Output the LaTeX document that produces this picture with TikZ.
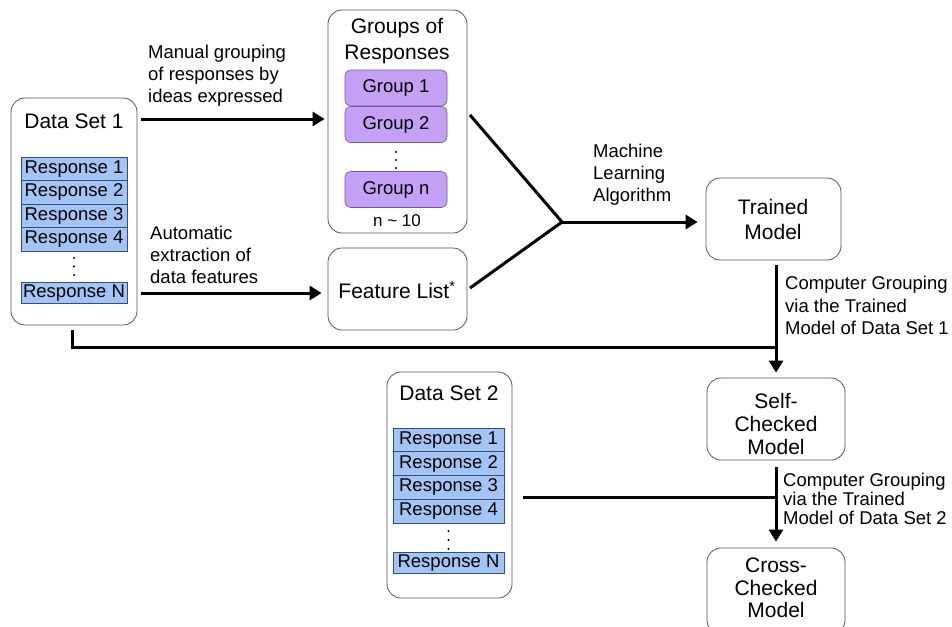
\documentclass[tikz,border=0pt]{standalone}
\usepackage{fontspec}
\setmainfont{Liberation Sans}
\usetikzlibrary{arrows.meta,calc}
\definecolor{respblue}{HTML}{A4C4F6}
\definecolor{respborder}{HTML}{34507A}
\definecolor{grppurple}{HTML}{C4A0F6}
\definecolor{grpborder}{HTML}{6E5A96}
\definecolor{boxborder}{HTML}{555555}
\begin{document}
\begin{tikzpicture}[x=1pt,y=-1pt,
  box/.style={draw=boxborder, line width=0.8pt, rounded corners=14pt, fill=white, inner sep=0pt},
  resp/.style={draw=respborder, line width=0.7pt, fill=respblue, minimum width=106pt, minimum height=23.5pt, inner sep=0pt, font=\fontsize{18.5}{20}\selectfont},
  grp/.style={draw=grpborder, line width=0.6pt, fill=grppurple, rounded corners=6pt, minimum width=102pt, minimum height=36pt, inner sep=0pt, font=\fontsize{18.5}{20}\selectfont},
  ttl/.style={font=\fontsize{21}{25}\selectfont, align=center, inner sep=0pt},
  lbl/.style={font=\fontsize{18.5}{22}\selectfont, align=left, anchor=west, inner sep=0pt},
  dotsym/.style={circle, fill=black, inner sep=0pt, minimum size=2.4pt},
  flow/.style={line width=3pt, -{Triangle[length=12pt,width=14pt]}},
  plain/.style={line width=3pt},
]
\useasboundingbox (0,0) rectangle (952,626);
\clip (0,0) rectangle (952,626);

% ---------- Data Set 1 ----------
\node[box, minimum width=126pt, minimum height=227pt] (ds1) at (74,211.5) {};
\node[ttl] (ds1t) at (74,121) {Data Set 1};
\node[resp] (r11) at (74,168.75) {Response 1};
\node[resp] (r12) at (74,192.25) {Response 2};
\node[resp] (r13) at (74,215.75) {Response 3};
\node[resp] (r14) at (74,239.25) {Response 4};
\node[dotsym] (d11) at (74,258) {};
\node[dotsym] (d12) at (74,266.5) {};
\node[dotsym] (d13) at (74,275) {};
\node[resp, minimum height=21pt] (r1n) at (74,293) {Response N};

% ---------- Groups of Responses ----------
\node[box, minimum width=139pt, minimum height=223pt] (grps) at (397.5,121.5) {};
\node[ttl, font=\fontsize{21}{26}\selectfont] (grpst) at (397,41.5) {Groups of\\Responses};
\node[grp] (g1) at (396,88) {Group 1};
\node[grp] (g2) at (396,124.5) {Group 2};
\node[dotsym] (gd1) at (396,152) {};
\node[dotsym] (gd2) at (396,160) {};
\node[dotsym] (gd3) at (396,168) {};
\node[grp] (gn) at (396,189.5) {Group n};
\node[font=\fontsize{17}{20}\selectfont, inner sep=0pt] (n10) at (397,221) {n \char`~{} 10};

% ---------- Feature List ----------
\node[box, minimum width=139pt, minimum height=82pt] (feat) at (397.5,289) {};
\node[ttl] (featt) at (397,290) {Feature List\textsuperscript{*}};

% ---------- Trained Model ----------
\node[box, minimum width=135pt, minimum height=82pt] (trained) at (773.5,219) {};
\node[ttl] (trainedt) at (773,219.5) {Trained\\Model};

% ---------- Self-Checked Model ----------
\node[box, minimum width=138pt, minimum height=82pt] (self) at (776,419) {};
\node[ttl, font=\fontsize{21}{23}\selectfont] (selft) at (776,424) {Self-\\Checked\\Model};

% ---------- Cross-Checked Model ----------
\node[box, minimum width=138pt, minimum height=86pt] (cross) at (776,591) {};
\node[ttl, font=\fontsize{21}{22.5}\selectfont] (crosst) at (776,588) {Cross-\\Checked\\Model};

% ---------- Data Set 2 ----------
\node[box, minimum width=125pt, minimum height=226pt] (ds2) at (449.5,485) {};
\node[ttl] (ds2t) at (449,393) {Data Set 2};
\node[resp, minimum width=111pt, minimum height=23.75pt] (r21) at (448.5,439.9) {Response 1};
\node[resp, minimum width=111pt, minimum height=23.75pt] (r22) at (448.5,463.6) {Response 2};
\node[resp, minimum width=111pt, minimum height=23.75pt] (r23) at (448.5,487.4) {Response 3};
\node[resp, minimum width=111pt, minimum height=23.75pt] (r24) at (448.5,511.1) {Response 4};
\node[dotsym] (d21) at (448.5,531) {};
\node[dotsym] (d22) at (448.5,540) {};
\node[dotsym] (d23) at (448.5,549) {};
\node[resp, minimum width=111pt, minimum height=21pt] (r2n) at (448.5,563) {Response N};

% ---------- Labels ----------
\node[lbl] (lman) at (148,76) {Manual grouping\\of responses by\\ideas expressed};
\node[lbl] (lauto) at (150,255) {Automatic\\extraction of\\data features};
\node[lbl] (lml) at (593,174.5) {Machine\\Learning\\Algorithm};
\node[lbl, font=\fontsize{18.5}{22.5}\selectfont] (lcg1) at (785,305.5) {Computer Grouping\\via the Trained\\Model of Data Set 1};
\node[lbl, font=\fontsize{18.5}{19}\selectfont] (lcg2) at (783,499) {Computer Grouping\\via the Trained\\Model of Data Set 2};

% ---------- Connectors ----------
\coordinate (m1) at (141,119);
\coordinate (a1) at (141,293);
\coordinate (gout) at (470,115);
\coordinate (fout) at (470,288);
\coordinate (j) at (562,222);
\coordinate (fb1a) at (72,330);
\coordinate (fb1b) at (72,347);
\coordinate (fb1c) at (776,347);
\coordinate (t1) at (776,265);
\coordinate (t2) at (776,467);
\coordinate (fb2a) at (523,497);
\coordinate (fb2b) at (776,497);

\draw[flow, shorten >=3pt] (m1) -- (grps.west |- m1);
\draw[flow, shorten >=6pt] (a1) -- (feat.west |- a1);
\draw[plain, line join=miter] (gout) -- (j) -- (fout);
\draw[flow, shorten >=8pt] (j) -- (trained.west |- j);
\draw[flow, shorten >=5pt] (t1) -- (self.north);
\draw[plain] (fb1a) -- (fb1b) -- (fb1c);
\draw[flow, shorten >=6pt] (t2) -- (cross.north);
\draw[plain] (fb2a) -- (fb2b);
\end{tikzpicture}
\end{document}
